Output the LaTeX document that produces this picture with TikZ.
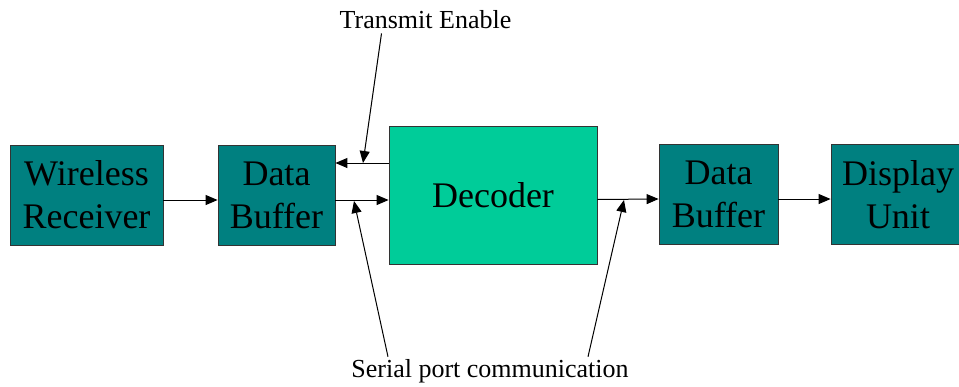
\documentclass[tikz,border=0pt]{standalone}
\usepackage{fontspec}
\setmainfont{Liberation Serif}
\usetikzlibrary{arrows.meta}
\definecolor{tealbox}{HTML}{008080}
\definecolor{decgreen}{HTML}{00CC99}
\definecolor{boxline}{HTML}{333333}
\begin{document}
\begin{tikzpicture}[x=1pt,y=-1pt,
    block/.style={draw=boxline,line width=0.8pt,fill=tealbox,align=center,
        inner sep=0pt,font=\fontsize{36}{43}\selectfont},
    pointer/.style={-{Triangle[length=12pt,width=10pt]},line width=1pt},
    label/.style={inner sep=0pt,font=\fontsize{26}{30}\selectfont}]

\def\BLOCKH{100}
	\useasboundingbox (0,0) rectangle (959,386);
	\node[block,minimum width=153,minimum height=\BLOCKH] (receiver) at (86.5,195) {Wireless\\Receiver};
	\node[block,minimum width=117,minimum height=\BLOCKH] (bufferin) at (276.5,195) {Data\\Buffer};
	\node[block,fill=decgreen,minimum width=208,minimum height=138] (decoder) at (493,195) {Decoder};
	\node[block,minimum width=119,minimum height=\BLOCKH] (bufferout) at (718.5,194.5) {Data\\Buffer};
	\node[block,minimum width=134,minimum height=\BLOCKH] (display) at (898,194.5) {Display\\Unit};

	\node[label,anchor=base] (enable) at (425.5,28) {Transmit Enable};
	\node[label,anchor=base] (serial) at (490,377) {Serial port communication};

	\draw[pointer] ([yshift=-5pt]receiver.east) -- ([yshift=-5pt]bufferin.west);
	\draw[pointer] ([yshift=32pt]decoder.west) -- ([yshift=32pt]bufferin.east);
	\draw[pointer] ([yshift=-5pt]bufferin.east) -- ([yshift=-5pt]decoder.west);
	\draw[pointer] ([yshift=-4.5pt]decoder.east) -- ([yshift=-4.5pt]bufferout.west);
	\draw[pointer] ([yshift=-4.5pt]bufferout.east) -- ([yshift=-4.5pt]display.west);

	\coordinate (enabletip) at (363,163);
	\coordinate (serialtipa) at (354,201);
	\coordinate (serialtipb) at (624,200);
	\draw[pointer] ([xshift=-44pt,yshift=-5pt]enable.south) -- (enabletip);
	\draw[pointer] ([xshift=-102pt,yshift=2pt]serial.north) -- (serialtipa);
	\draw[pointer] ([xshift=98pt,yshift=2pt]serial.north) -- (serialtipb);

\end{tikzpicture}
\end{document}
